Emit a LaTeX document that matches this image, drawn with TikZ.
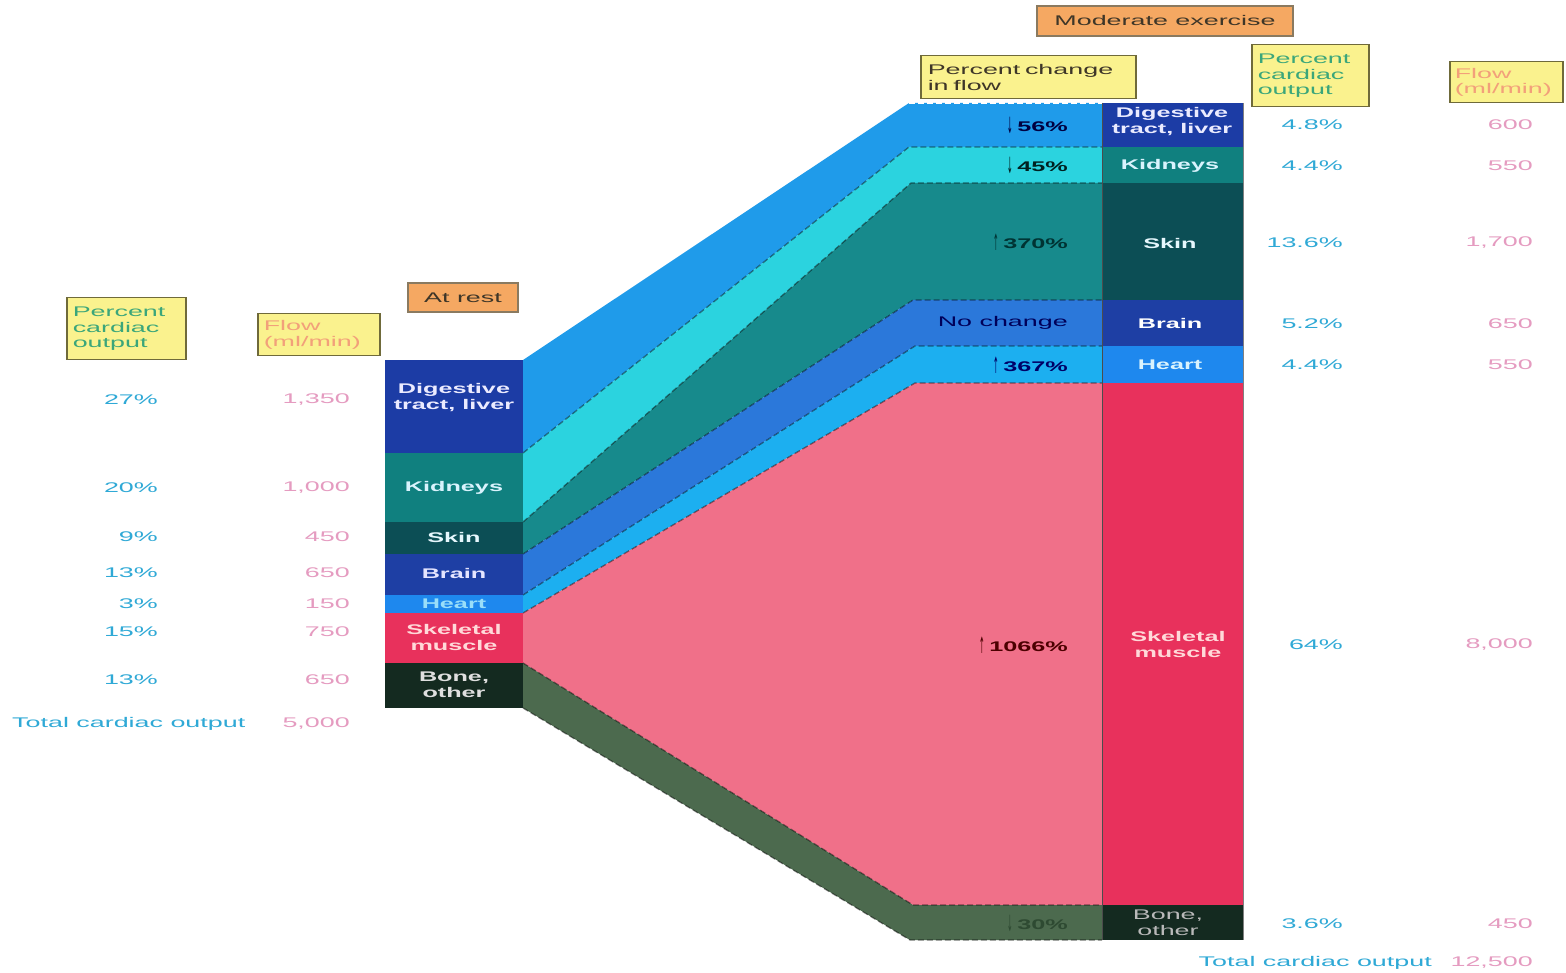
\documentclass[tikz,border=0pt]{standalone}
\usepackage{fontspec}
\setmainfont{Liberation Sans}[FakeStretch=1.92]
\newfontfamily\lblfont{Liberation Sans Bold}[FakeStretch=1.8]
\newfontfamily\arrowfont{DejaVu Sans}[FakeStretch=0.3, Scale=1.6]
\definecolor{digbar}{HTML}{1C3CA5}
\definecolor{digband}{HTML}{1F9BEA}
\definecolor{kidbar}{HTML}{10807F}
\definecolor{kidband}{HTML}{2BD3DF}
\definecolor{skinbar}{HTML}{0C4E55}
\definecolor{skinband}{HTML}{178A8C}
\definecolor{brainbar}{HTML}{1E3FA4}
\definecolor{brainband}{HTML}{2B78DA}
\definecolor{heartbar}{HTML}{1E88EE}
\definecolor{heartband}{HTML}{1CAFF0}
\definecolor{skelbar}{HTML}{E8315C}
\definecolor{skelband}{HTML}{F07089}
\definecolor{bonebar}{HTML}{142A20}
\definecolor{boneband}{HTML}{4C6A4E}
\definecolor{ybox}{HTML}{FAF28E}
\definecolor{yborder}{HTML}{6F6A3A}
\definecolor{obox}{HTML}{F5A862}
\definecolor{oborder}{HTML}{8A7A60}
\definecolor{cyantxt}{HTML}{2FA9D6}
\definecolor{pinktxt}{HTML}{E59BC0}
\definecolor{greentxt}{HTML}{3BA67A}
\definecolor{flowtxt}{HTML}{F2A07A}
\definecolor{hdrtxt}{HTML}{3E3628}
\definecolor{bonechg}{HTML}{2E4A32}
\newcommand\arrdn{\raisebox{-1.5pt}{\arrowfont ↓}}
\newcommand\arrup{\raisebox{-1.5pt}{\arrowfont ↑}}
\begin{document}
\begin{tikzpicture}[x=1pt,y=-1pt,
  every node/.style={font=\fontsize{14}{16}\selectfont, inner sep=0pt},
  ybx/.style={draw=yborder, line width=1.5pt, fill=ybox, align=left, anchor=north west, inner xsep=0pt, inner ysep=0pt},
  obx/.style={draw=oborder, line width=1.5pt, fill=obox, text=hdrtxt},
  pct/.style={text=cyantxt, anchor=east},
  flw/.style={text=pinktxt, anchor=east},
  barlbl/.style={font=\lblfont\fontsize{14}{16}\selectfont, align=center},
  chg/.style={font=\lblfont\fontsize{14}{16}\selectfont, anchor=east},
  bnd/.style={draw=black, draw opacity=0.45, line width=1.3pt, dash pattern=on 6pt off 3pt}
]
\useasboundingbox (0,0) rectangle (1566,973);
\fill[white] (0,0) rectangle (1566,973);

% ---- flow bands ----
\fill[digband]   (523,360)--(909,103)--(1102,103)--(1102,147)--(909,147)--(523,453)--cycle;
\fill[kidband]   (523,453)--(909,147)--(1102,147)--(1102,183)--(911,183)--(523,522)--cycle;
\fill[skinband]  (523,522)--(911,183)--(1102,183)--(1102,300)--(913,300)--(523,554)--cycle;
\fill[brainband] (523,554)--(913,300)--(1102,300)--(1102,346)--(915,346)--(523,595)--cycle;
\fill[heartband] (523,595)--(915,346)--(1102,346)--(1102,383)--(915,383)--(523,613)--cycle;
\fill[skelband]  (523,613)--(915,383)--(1102,383)--(1102,905)--(913,905)--(523,663)--cycle;
\fill[boneband]  (523,663)--(913,905)--(1102,905)--(1102,940)--(910,940)--(523,708)--cycle;

% ---- dashed band boundaries ----
\draw[bnd] (523,453)--(909,147)--(1102,147);
\draw[bnd] (523,522)--(911,183)--(1102,183);
\draw[bnd] (523,554)--(913,300)--(1102,300);
\draw[bnd] (523,595)--(915,346)--(1102,346);
\draw[bnd] (523,613)--(915,383)--(1102,383);
\draw[bnd] (523,663)--(913,905)--(1102,905);
\draw[bnd] (523,708)--(910,940)--(1102,940);
\draw[white, line width=1.3pt, dash pattern=on 6pt off 3pt] (909,103)--(1102,103);

% ---- left bar ----
\fill[digbar]   (385,360) rectangle (523,453);
\fill[kidbar]   (385,453) rectangle (523,522);
\fill[skinbar]  (385,522) rectangle (523,554);
\fill[brainbar] (385,554) rectangle (523,595);
\fill[heartbar] (385,595) rectangle (523,613);
\fill[skelbar]  (385,613) rectangle (523,663);
\fill[bonebar]  (385,663) rectangle (523,708);

\node[barlbl, text=blue!8]       (lDig)   at (454,398) {Digestive\\tract, liver};
\node[barlbl, text=cyan!15]      (lKid)   at (454,488) {Kidneys};
\node[barlbl, text=cyan!10]      (lSkin)  at (454,537) {Skin};
\node[barlbl, text=blue!10]      (lBrain) at (454,573) {Brain};
\node[barlbl, text=cyan!40]      (lHeart) at (454,604) {Heart};
\node[barlbl, text=pink!60]      (lSkel)  at (454,637) {Skeletal\\muscle};
\node[barlbl, text=gray!25]      (lBone)  at (454,685) {Bone,\\other};

% ---- right bar ----
\fill[digbar]   (1102,103) rectangle (1243,147);
\fill[kidbar]   (1102,147) rectangle (1243,183);
\fill[skinbar]  (1102,183) rectangle (1243,300);
\fill[brainbar] (1102,300) rectangle (1243,346);
\fill[heartbar] (1102,346) rectangle (1243,383);
\fill[skelbar]  (1102,383) rectangle (1243,905);
\fill[bonebar]  (1102,905) rectangle (1243,940);
\draw[black!70, line width=1pt] (1102,103)--(1102,940);
\draw[black!50, line width=0.8pt] (1243,103)--(1243,940);

\node[barlbl, text=white!92!blue]  (rDig)   at (1172,122) {Digestive\\tract, liver};
\node[barlbl, text=cyan!15]        (rKid)   at (1170,166) {Kidneys};
\node[barlbl, text=cyan!10]        (rSkin)  at (1170,243) {Skin};
\node[barlbl, text=white]          (rBrain) at (1170,323) {Brain};
\node[barlbl, text=cyan!15]        (rHeart) at (1170,365) {Heart};
\node[barlbl, text=pink!60]        (rSkel)  at (1178,644) {Skeletal\\muscle};
\node[align=center, text=gray!55, font=\fontsize{14}{16}\selectfont] (rBone) at (1168,923) {Bone,\\other};

% ---- percent change labels ----
\node[chg, text=black!75!blue]  (c1) at (1068,125) {\arrdn\,\,56\%};
\node[chg, text=black!75!teal]  (c2) at (1068,165) {\arrdn\,\,45\%};
\node[chg, text=black!60!teal]  (c3) at (1068,242) {\arrup\,\,370\%};
\node[chg, text=black!65!blue, font=\fontsize{14}{16}\selectfont]  (c4) at (1068,323) {No change};
\node[chg, text=black!60!blue]  (c5) at (1068,365) {\arrup\,\,367\%};
\node[chg, text=black!70!red]   (c6) at (1068,645) {\arrup\,\,1066\%};
\node[chg, text=bonechg]        (c7) at (1068,923) {\arrdn\,\,30\%};

% ---- header boxes ----
\node[obx, minimum width=110, minimum height=29] (atrest) at (463,297.5) {At rest};
\node[obx, minimum width=256, minimum height=30] (modex) at (1165,21) {Moderate exercise};

\node[ybx, minimum width=119, minimum height=62, text width=107, inner xsep=6pt, text=greentxt, font=\fontsize{14}{15.5}\selectfont] (lpco) at (66,297) {Percent\\cardiac\\output};
\node[ybx, minimum width=122, minimum height=42, text width=110, inner xsep=6pt, text=flowtxt, font=\fontsize{14}{15.5}\selectfont] (lflow) at (257,313) {Flow\\(ml/min)};
\node[ybx, minimum width=215, minimum height=43, text width=201, inner xsep=7pt, text=hdrtxt, font=\fontsize{14}{15.5}\selectfont] (pchg) at (920,55) {Percent change\\in flow};
\node[ybx, minimum width=117, minimum height=62, text width=105, inner xsep=6pt, text=greentxt, font=\fontsize{14}{15.5}\selectfont] (rpco) at (1251,44) {Percent\\cardiac\\output};
\node[ybx, minimum width=113, minimum height=41, text width=103, inner xsep=5pt, text=flowtxt, font=\fontsize{14}{15.5}\selectfont] (rflow) at (1449,61) {Flow\\(ml/min)};

% ---- left columns ----
\node[pct] (lp1) at (158,400) {27\%};
\node[pct] (lp2) at (158,488) {20\%};
\node[pct] (lp3) at (158,537) {9\%};
\node[pct] (lp4) at (158,573) {13\%};
\node[pct] (lp5) at (158,604) {3\%};
\node[pct] (lp6) at (158,632) {15\%};
\node[pct] (lp7) at (158,680) {13\%};
\node[flw] (lf1) at (350,400) {1,350};
\node[flw] (lf2) at (350,488) {1,000};
\node[flw] (lf3) at (350,537) {450};
\node[flw] (lf4) at (350,573) {650};
\node[flw] (lf5) at (350,604) {150};
\node[flw] (lf6) at (350,632) {750};
\node[flw] (lf7) at (350,680) {650};
\node[text=cyantxt, anchor=west] (ltot) at (12,724) {Total cardiac output};
\node[flw] (ltotv) at (350,724) {5,000};

% ---- right columns ----
\node[pct] (rp1) at (1343,125) {4.8\%};
\node[pct] (rp2) at (1343,166) {4.4\%};
\node[pct] (rp3) at (1343,243) {13.6\%};
\node[pct] (rp4) at (1343,324) {5.2\%};
\node[pct] (rp5) at (1343,365) {4.4\%};
\node[pct] (rp6) at (1343,645) {64\%};
\node[pct] (rp7) at (1343,924) {3.6\%};
\node[flw] (rf1) at (1533,125) {600};
\node[flw] (rf2) at (1533,166) {550};
\node[flw] (rf3) at (1533,243) {1,700};
\node[flw] (rf4) at (1533,324) {650};
\node[flw] (rf5) at (1533,365) {550};
\node[flw] (rf6) at (1533,645) {8,000};
\node[flw] (rf7) at (1533,924) {450};
\node[text=cyantxt, anchor=east] (rtot) at (1432,963) {Total cardiac output};
\node[flw] (rtotv) at (1533,963) {12,500};
\end{tikzpicture}
\end{document}
